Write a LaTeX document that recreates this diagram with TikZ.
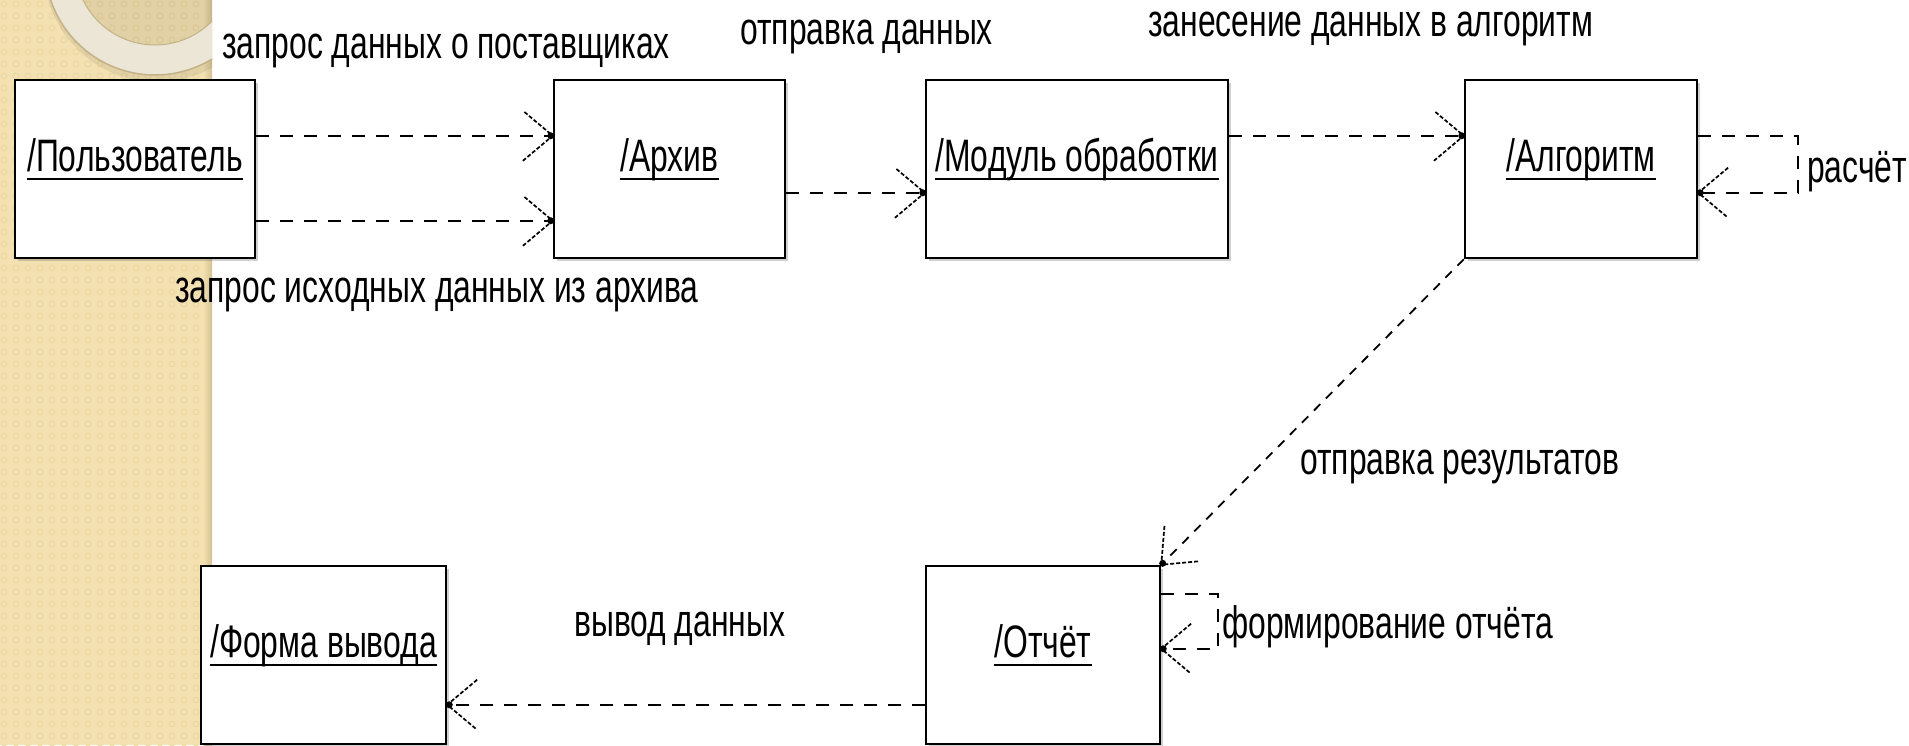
\documentclass[tikz,border=0pt]{standalone}
\usepackage{fontspec}
\setmainfont{Liberation Sans}[FakeStretch=0.7]
\usetikzlibrary{calc,shadows}
\definecolor{beige}{RGB}{243,225,178}
\definecolor{beigedk}{RGB}{233,213,160}
\definecolor{beigeedge}{RGB}{212,193,145}
\definecolor{ringfill}{RGB}{236,230,214}
\definecolor{ringedge}{RGB}{196,178,136}
\newcommand{\openhead}[2]{%
  \draw[arm] ($(#1)!39pt!40:(#2)$) -- (#1) -- ($(#1)!39pt!-40:(#2)$);
  \fill[black] ($(#1)!2pt!(#2)$) circle (3.5pt);
}
\begin{document}
\begin{tikzpicture}[x=1pt,y=-1pt,
  box/.style={draw=black, line width=2.5pt, fill=white, minimum height=178pt, inner sep=0pt,
    drop shadow={shadow xshift=3pt, shadow yshift=-3pt, opacity=0.3, fill=black!60}},
  lbl/.style={inner sep=0pt, font=\fontsize{45.5}{52}\selectfont},
  conn/.style={line width=2.2pt, dash pattern=on 13pt off 11pt},
  arm/.style={line width=1.7pt, dash pattern=on 4pt off 2pt},
  uline/.style={line width=2.5pt}
]
\useasboundingbox (0,0) rectangle (1909,745);
\fill[white] (0,0) rectangle (1909,745);
% beige strip
\fill[beige] (0,0) rectangle (212,745);
\begin{scope}
  \clip (0,0) rectangle (206,745);
  \foreach \i in {0,...,17}{
    \foreach \j in {0,...,62}{
      \draw[beigedk, line width=0.8pt] (\i*12+4, \j*12+4) circle (3pt);
    }
  }
\end{scope}
\shade[left color=beige, right color=beigeedge] (203,0) rectangle (212,745);
% ring
\begin{scope}
  \clip (0,0) rectangle (212,745);
  \fill[black, opacity=0.07] (157,-31) circle (113pt);
  \fill[ringfill, even odd rule] (155,-35) circle (110pt) (155,-35) circle (80pt);
  \draw[ringedge, line width=1.5pt] (155,-35) circle (110pt);
  \draw[ringedge, line width=1pt] (155,-35) circle (80pt);
\end{scope}

% boxes
\node[box, minimum width=240pt] (user) at (135,169) {};
\node[box, minimum width=231pt] (arch) at (669.5,169) {};
\node[box, minimum width=302pt] (mod) at (1077,169) {};
\node[box, minimum width=232pt] (alg) at (1581,169) {};
\node[box, minimum width=245pt] (form) at (323.5,655) {};
\node[box, minimum width=234pt] (rep) at (1043,655) {};

% box labels
\foreach \b/\t in {user/{/Пользователь}, arch/{/Архив}, mod/{/Модуль обработки}, alg/{/Алгоритм}, form/{/Форма вывода}, rep/{/Отчёт}}{
  \node[lbl, anchor=base] (\b L) at ($(\b.north)+(0,93)$) {\t};
  \draw[uline] ($(\b L.base west)+(0,7)$) -- ($(\b L.base east)+(0,7)$);
}

% connector end points
\coordinate (s1) at ($(user.north east)+(0,57)$);
\coordinate (t1) at ($(arch.north west)+(0,57)$);
\coordinate (s2) at ($(user.north east)+(0,142)$);
\coordinate (t2) at ($(arch.north west)+(0,142)$);
\coordinate (s3) at ($(arch.north east)+(0,114)$);
\coordinate (t3) at ($(mod.north west)+(0,114)$);
\coordinate (s4) at ($(mod.north east)+(0,57)$);
\coordinate (t4) at ($(alg.north west)+(0,57)$);
\coordinate (s5) at ($(alg.north east)+(0,57)$);
\coordinate (c5a) at ($(alg.north east)+(100,57)$);
\coordinate (c5b) at ($(alg.north east)+(100,114)$);
\coordinate (t5) at ($(alg.north east)+(0,114)$);
\coordinate (s6) at (alg.south west);
\coordinate (t6) at (rep.north east);
\coordinate (s7) at ($(rep.north east)+(0,29)$);
\coordinate (c7a) at ($(rep.north east)+(57,29)$);
\coordinate (c7b) at ($(rep.north east)+(57,84)$);
\coordinate (t7) at ($(rep.north east)+(0,84)$);
\coordinate (s8) at ($(rep.north west)+(0,140)$);
\coordinate (t8) at ($(form.north east)+(0,140)$);

% connectors
\draw[conn] (s1) -- (t1); \openhead{t1}{s1}
\draw[conn] (s2) -- (t2); \openhead{t2}{s2}
\draw[conn] (s3) -- (t3); \openhead{t3}{s3}
\draw[conn] (s4) -- (t4); \openhead{t4}{s4}
\draw[conn] (s5) -- (c5a) -- (c5b) -- (t5); \openhead{t5}{c5b}
\draw[conn, line width=1.8pt, dash pattern=on 9pt off 8pt] (s6) -- (t6); \openhead{t6}{s6}
\draw[conn] (s7) -- (c7a) -- (c7b) -- (t7); \openhead{t7}{c7b}
\draw[conn] (s8) -- (t8); \openhead{t8}{s8}

% labels
\node[lbl, anchor=base west] (l1) at (222,58) {запрос данных о поставщиках};
\node[lbl, anchor=base west] (l2) at (740,44) {отправка данных};
\node[lbl, anchor=base west] (l3) at (1148,36) {занесение данных в алгоритм};
\node[lbl, anchor=base west] (l4) at (175,302) {запрос исходных данных из архива};
\node[lbl, anchor=base west] (l5) at (1300,474) {отправка результатов};
\node[lbl, anchor=base west] (l6) at (574,636) {вывод данных};
\node[lbl, anchor=base west] (l7) at (1222,638) {формирование отчёта};
\node[lbl, anchor=base west] (l8) at (1807,182) {расчёт};
\end{tikzpicture}
\end{document}
